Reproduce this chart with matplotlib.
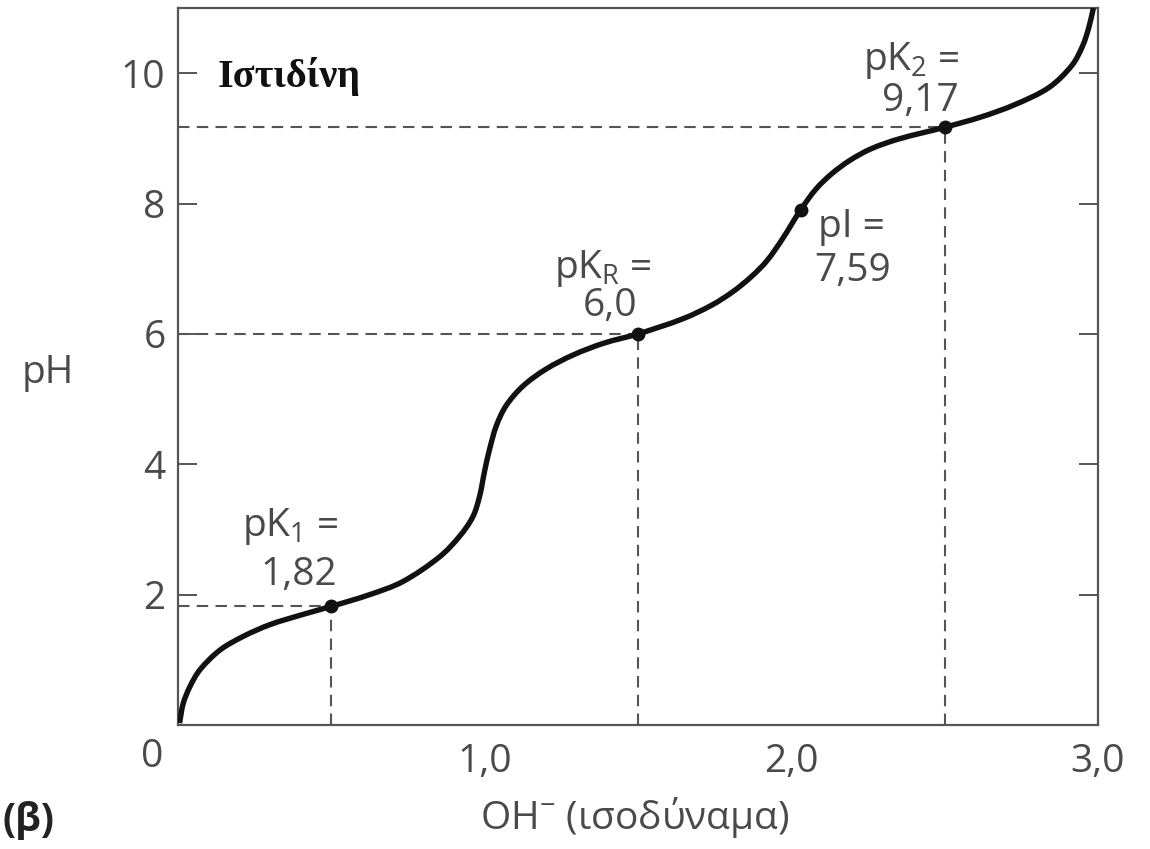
import matplotlib
matplotlib.use("Agg")
import numpy as np
import matplotlib.pyplot as plt
from matplotlib.path import Path
from matplotlib.patches import PathPatch

# ---- data ----
oh_eq = [0.005, 0.017, 0.039, 0.072, 0.137, 0.213, 0.30, 0.41, 0.50, 0.625, 0.733,
         0.853, 0.919, 0.962, 0.984, 1.0, 1.016, 1.038, 1.07, 1.125, 1.20, 1.29,
         1.39, 1.50, 1.645, 1.74, 1.81, 1.87, 1.92, 1.97, 2.03, 2.08, 2.13, 2.19,
         2.26, 2.35, 2.50, 2.62, 2.73, 2.84, 2.915, 2.95, 2.97, 2.985]
ph = [0.03, 0.33, 0.59, 0.85, 1.15, 1.36, 1.54, 1.70, 1.82, 2.0, 2.2,
      2.58, 2.9, 3.2, 3.52, 3.9, 4.23, 4.59, 4.9, 5.2, 5.46, 5.68,
      5.86, 6.0, 6.23, 6.44, 6.65, 6.88, 7.12, 7.45, 7.9, 8.22, 8.45, 8.66,
      8.84, 8.99, 9.17, 9.33, 9.52, 9.78, 10.12, 10.42, 10.70, 11.0]

pk_x = [0.5, 1.5, 2.5]
pk_y = [1.82, 6.0, 9.17]
pk_line1 = ["pK$_\\mathregular{1}$ =", "pK$_\\mathregular{R}$ =", "pK$_\\mathregular{2}$ ="]
pk_line2 = ["1,82", "6,0", "9,17"]
pi_x, pi_y = 2.03, 7.9
pi_line1, pi_line2 = "pI =", "7,59"

y_ticks = [2, 4, 6, 8, 10]
y_ticklabels = ["2", "4", "6", "8", "10"]
x_ticks = [1.0, 2.0, 3.0]
x_ticklabels = ["1,0", "2,0", "3,0"]

title_text = "Ιστιδίνη"
xlabel_text = "OH$^{\\mathregular{-}}$ (ισοδύναμα)"
ylabel_text = "pH"
panel_text = "(β)"

# ---- style ----
plt.rcParams['font.family'] = ['Open Sans', 'DejaVu Sans']
plt.rcParams['mathtext.fontset'] = 'custom'
plt.rcParams['mathtext.rm'] = 'Open Sans'
plt.rcParams['mathtext.it'] = 'Open Sans'
TXT = '#4a4a4a'
SP = '#555555'
FS = 28

fig = plt.figure(figsize=(11.5, 8.49), dpi=100)
ax = fig.add_axes([178/1150, 1-725/849, (1098-178)/1150, (725-8)/849])
ax.set_xlim(0, 3.0)
ax.set_ylim(0, 11.0)

for s in ax.spines.values():
    s.set_color(SP)
    s.set_linewidth(1.6)

# dashed guide lines
for x, y in zip(pk_x, pk_y):
    ax.plot([0, x], [y, y], color=SP, lw=1.5, dashes=(5.5, 3.5), zorder=1)
    ax.plot([x, x], [0, y], color=SP, lw=1.5, dashes=(5.5, 3.5), zorder=1)

# titration curve drawn as a smooth Bezier path through the read points
def smooth_path(xs, ys, sx=307.0, sy=65.0):
    P = np.column_stack([np.asarray(xs) * sx, np.asarray(ys) * sy])
    n = len(P)
    T = np.zeros_like(P)
    for i in range(n):
        a = P[max(i - 1, 0)]
        b = P[min(i + 1, n - 1)]
        d = b - a
        T[i] = d / np.hypot(*d)
    verts = [P[0]]
    codes = [Path.MOVETO]
    for i in range(n - 1):
        L = np.hypot(*(P[i + 1] - P[i])) / 3.0
        verts += [P[i] + T[i] * L, P[i + 1] - T[i + 1] * L, P[i + 1]]
        codes += [Path.CURVE4] * 3
    V = np.array(verts)
    V[:, 0] /= sx
    V[:, 1] /= sy
    return Path(V, codes)

ax.add_patch(PathPatch(smooth_path(oh_eq, ph), facecolor='none', edgecolor='#111111',
                       lw=3.9, capstyle='butt', joinstyle='round', zorder=3))
ax.plot(pk_x + [pi_x], pk_y + [pi_y], 'o', color='#111111', ms=9, zorder=4)

# annotations
label_pos = [((0.365, 3.05), (0.395, 2.3)),
             ((1.385, 7.0), (1.41, 6.43)),
             ((2.39, 10.2), (2.42, 9.57))]
for (p1, p2), t1, t2 in zip(label_pos, pk_line1, pk_line2):
    ax.text(*p1, t1, ha='center', va='center', fontsize=FS, color=TXT)
    ax.text(*p2, t2, ha='center', va='center', fontsize=FS, color=TXT)
ax.text(2.195, 7.64, pi_line1, ha='center', va='center', fontsize=FS, color=TXT)
ax.text(2.2, 6.97, pi_line2, ha='center', va='center', fontsize=FS, color=TXT)

ax.text(0.13, 9.95, title_text, ha='left', va='center', fontsize=29,
        fontweight='bold', family=['Liberation Serif', 'DejaVu Serif'], color='#111111')

# ticks
ax.set_yticks(y_ticks)
ax.set_yticklabels(y_ticklabels)
ax.tick_params(axis='y', which='major', direction='in', length=14, width=1.4,
               color=SP, labelsize=FS, labelcolor=TXT, pad=9, right=True, left=True)
ax.set_xticks(x_ticks)
ax.set_xticklabels(x_ticklabels)
ax.tick_params(axis='x', which='major', length=0, labelsize=FS, labelcolor=TXT, pad=13)
ax.set_xticks([1.0], minor=True)
ax.tick_params(axis='x', which='minor', direction='in', length=14, width=1.4, color=SP)

fig.text(152/1150, 1-757/849, "0", ha='center', va='center', fontsize=FS, color=TXT)
fig.text(48/1150, 1-373/849, ylabel_text, ha='center', va='center', fontsize=FS, color=TXT)
fig.text(635/1150, 1-818/849, xlabel_text, ha='center', va='center', fontsize=FS, color=TXT)
fig.text(3/1150, 1-820/849, panel_text, ha='left', va='center', fontsize=FS,
         fontweight='bold', color='#222222')

fig.savefig("out.png", dpi=100)
